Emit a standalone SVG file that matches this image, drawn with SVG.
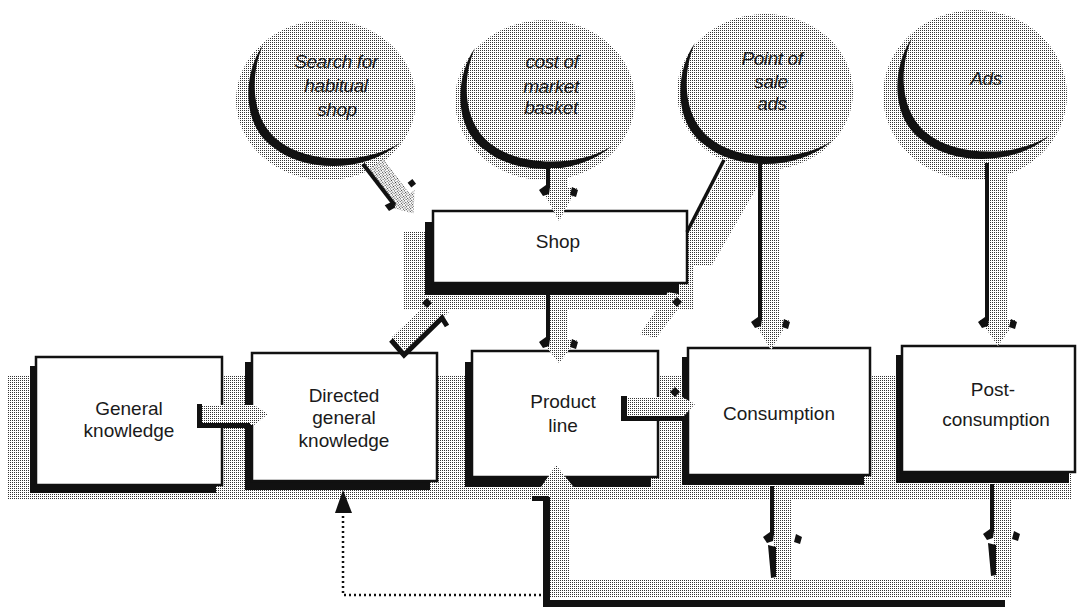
<svg xmlns="http://www.w3.org/2000/svg" width="1078" height="609" viewBox="0 0 1078 609">
  <defs>
    <!-- halftone screen used for all grey shading -->
    <pattern id="ht" width="2" height="2" patternUnits="userSpaceOnUse">
      <rect width="2" height="2" fill="#fff"/>
      <rect width="1" height="1" fill="#333"/>
    </pattern>
    <!-- black crescent drawn on the lower-left of each source circle -->
    <path id="cres" d="M0,0 C-20,28 -22,80 10,102 C38,126 100,130 137,98 C100,121 42,117 16,96 C-13,74 -13,30 0,0 Z"/>
    <style>
      .shade { fill: url(#ht); }
      .ink { fill: #111; }
      .box { fill: #fff; stroke: #111; stroke-width: 2.5; }
      .shadow { fill: #111; }
      .lbl { font-family: "Liberation Sans", Arial, sans-serif; font-size: 19px; text-anchor: middle; fill: #1a1a1a; }
      .it { font-style: italic; letter-spacing: -0.4px; }
      .dot { fill: none; stroke: #111; stroke-width: 2.5; stroke-dasharray: 2 3; }
    </style>
  </defs>

  <rect width="1078" height="609" fill="#fff"/>

  <!-- grey backdrop behind the box row and the shop box -->
  <g id="backdrop">
    <rect class="shade" x="8" y="376" width="1064" height="124"/>
    <rect class="shade" x="403" y="232" width="290" height="78"/>
  </g>

  <!-- source circles -->
  <g id="c-search">
    <ellipse class="shade" cx="326" cy="100" rx="90" ry="80"/>
    <use href="#cres" class="ink" transform="translate(263,45)"/>
    <text class="lbl it" x="336" y="68">Search for</text>
    <text class="lbl it" x="336" y="92">habitual</text>
    <text class="lbl it" x="337" y="116">shop</text>
  </g>
  <g id="c-cost">
    <ellipse class="shade" cx="545" cy="100" rx="90" ry="80"/>
    <use href="#cres" class="ink" transform="translate(475,48)"/>
    <text class="lbl it" x="552" y="68">cost of</text>
    <text class="lbl it" x="551" y="93">market</text>
    <text class="lbl it" x="551" y="114">basket</text>
  </g>
  <g id="c-pos">
    <ellipse class="shade" cx="765" cy="92" rx="88" ry="78"/>
    <use href="#cres" class="ink" transform="translate(695,43)"/>
    <text class="lbl it" x="772" y="65">Point of</text>
    <text class="lbl it" x="771" y="88">sale</text>
    <text class="lbl it" x="772" y="110">ads</text>
  </g>
  <g id="c-ads">
    <ellipse class="shade" cx="975" cy="95" rx="92" ry="85"/>
    <use href="#cres" class="ink" transform="translate(912,38)"/>
    <text class="lbl it" x="986" y="85">Ads</text>
  </g>

  <!-- boxes: black drop shadow offset down-left, white face -->
  <g id="shop">
    <rect class="shadow" x="425" y="222" width="254" height="73"/>
    <rect class="box" x="433" y="211" width="254" height="72"/>
    <text class="lbl" x="558" y="248">Shop</text>
  </g>
  <g id="general">
    <rect class="shadow" x="30" y="366" width="186" height="127"/>
    <rect class="box" x="36" y="357" width="186" height="128"/>
    <text class="lbl" x="129" y="415">General</text>
    <text class="lbl" x="129" y="437">knowledge</text>
  </g>
  <g id="directed">
    <rect class="shadow" x="245" y="362" width="185" height="128"/>
    <rect class="box" x="252" y="353" width="185" height="128"/>
    <text class="lbl" x="344" y="402">Directed</text>
    <text class="lbl" x="344" y="424">general</text>
    <text class="lbl" x="344" y="447">knowledge</text>
  </g>
  <g id="product">
    <rect class="shadow" x="465" y="362" width="186" height="125"/>
    <rect class="box" x="472" y="351" width="186" height="126"/>
    <text class="lbl" x="563" y="408">Product</text>
    <text class="lbl" x="563" y="432">line</text>
  </g>
  <g id="consumption">
    <rect class="shadow" x="682" y="357" width="182" height="128"/>
    <rect class="box" x="688" y="348" width="182" height="127"/>
    <text class="lbl" x="779" y="420">Consumption</text>
  </g>
  <g id="post">
    <rect class="shadow" x="896" y="355" width="173" height="128"/>
    <rect class="box" x="902" y="346" width="173" height="126"/>
    <text class="lbl" x="993" y="396">Post-</text>
    <text class="lbl" x="996" y="426">consumption</text>
  </g>

  <!-- connectors: grey halftone bodies with black shadow edges -->
  <g id="connectors">
    <!-- search circle to shop (diagonal) -->
    <g transform="translate(365,165) rotate(52.4)">
      <path class="shade" d="M6,-18 H50 V-24 L68,-9 L50,5 V0 H6 Z"/>
      <rect class="ink" x="-2" y="-1" width="52" height="4"/>
      <path class="ink" d="M46,-1 L52,2 L51,9 L44,9 Z"/>
      <path class="ink" d="M40,-29 L46,-29 L46,-23 L40,-23 Z"/>
    </g>

    <!-- cost circle to shop -->
    <path class="shade" d="M550,168 H568 V188 H577 L559,221 L541,188 H550 Z"/>
    <rect class="ink" x="546" y="165" width="4" height="23"/>
    <path class="ink" d="M546,185 L550,187 L549,194 L543,196 L539,190 Z"/>
    <path class="ink" d="M572,187 L578,190 L576,197 L570,195 Z"/>

    <!-- point of sale circle to shop (diagonal line) -->
    <path class="shade" d="M726,164 H760 V182 L712,265 H690 L689,232 Z"/>
    <line x1="724" y1="160" x2="687" y2="232" stroke="#111" stroke-width="3.5"/>

    <!-- point of sale circle to consumption -->
    <path class="shade" d="M762,166 H780 V320 H789 L771,350 L753,320 H762 Z"/>
    <rect class="ink" x="758" y="162" width="4" height="158"/>
    <path class="ink" d="M758,317 L762,319 L761,326 L755,328 L751,322 Z"/>
    <path class="ink" d="M784,319 L790,322 L788,329 L782,327 Z"/>

    <!-- ads circle to post-consumption -->
    <path class="shade" d="M989,166 H1007 V320 H1016 L998,346 L980,320 H989 Z"/>
    <rect class="ink" x="985" y="163" width="4" height="157"/>
    <path class="ink" d="M985,317 L989,319 L988,326 L982,328 L978,322 Z"/>
    <path class="ink" d="M1011,319 L1017,322 L1015,329 L1009,327 Z"/>

    <!-- shop to product line -->
    <path class="shade" d="M550,295 H568 V340 H577 L559,363 L541,340 H550 Z"/>
    <rect class="ink" x="546" y="295" width="4" height="45"/>
    <path class="ink" d="M546,337 L550,339 L549,346 L543,348 L539,342 Z"/>
    <path class="ink" d="M572,339 L578,342 L576,349 L570,347 Z"/>

    <!-- directed general knowledge to shop (diagonal) -->
    <path class="shade" d="M433,298 L449,312 L407,352 L391,338 Z"/>
    <polyline points="391,340 404,355 442,318 447,326" fill="none" stroke="#111" stroke-width="5"/>
    <path class="ink" d="M427,298 L432,303 L427,308 L422,303 Z"/>

    <!-- shop toward consumption (diagonal, lower right) -->
    <path class="shade" d="M668,292 L688,296 L656,338 L640,334 Z"/>
    <path class="ink" d="M677,297 L682,302 L677,307 L672,302 Z"/>

    <!-- general knowledge to directed general knowledge -->
    <path class="shade" d="M202,405 H254 L268,414 L254,425 H202 Z"/>
    <path class="ink" d="M197,404 H202 V423 H250 V428 H197 Z"/>

    <!-- product line to consumption -->
    <path class="shade" d="M627,397 H682 L695,404 L682,418 H627 Z"/>
    <path class="ink" d="M621,396 H627 V416 H684 V421 H621 Z"/>
    <path class="ink" d="M675,387 L680,392 L675,397 L670,392 Z"/>

    <!-- consumption down to the feedback line -->
    <rect class="shade" x="774" y="486" width="18" height="111"/>
    <rect class="ink" x="770" y="486" width="4" height="49"/>
    <path class="ink" d="M770,532 L774,534 L773,541 L767,543 L763,537 Z"/>
    <path class="ink" d="M796,534 L802,537 L800,544 L794,542 Z"/>
    <path class="ink" d="M768,545 L776,547 L776,577 L771,578 Z"/>

    <!-- post-consumption down to the feedback line -->
    <rect class="shade" x="994" y="484" width="18" height="113"/>
    <rect class="ink" x="990" y="484" width="4" height="48"/>
    <path class="ink" d="M990,529 L994,531 L993,538 L987,540 L983,534 Z"/>
    <path class="ink" d="M1014,531 L1020,534 L1018,541 L1012,539 Z"/>
    <path class="ink" d="M988,543 L996,545 L996,575 L991,576 Z"/>

    <!-- feedback line along the bottom, back up into product line -->
    <rect class="shade" x="550" y="580" width="462" height="17"/>
    <path class="shade" d="M550,597 V490 H539 L556,465 L576,490 H569 V597 Z"/>
    <rect class="ink" x="543" y="600" width="462" height="7"/>
    <rect class="ink" x="543" y="497" width="7" height="110"/>
    <rect class="ink" x="532" y="496" width="16" height="5"/>

    <!-- dotted return to directed general knowledge -->
    <path class="dot" d="M541,595 H343 V514"/>
    <path class="ink" d="M343,490 L335,513 L352,513 Z"/>
  </g>
</svg>
